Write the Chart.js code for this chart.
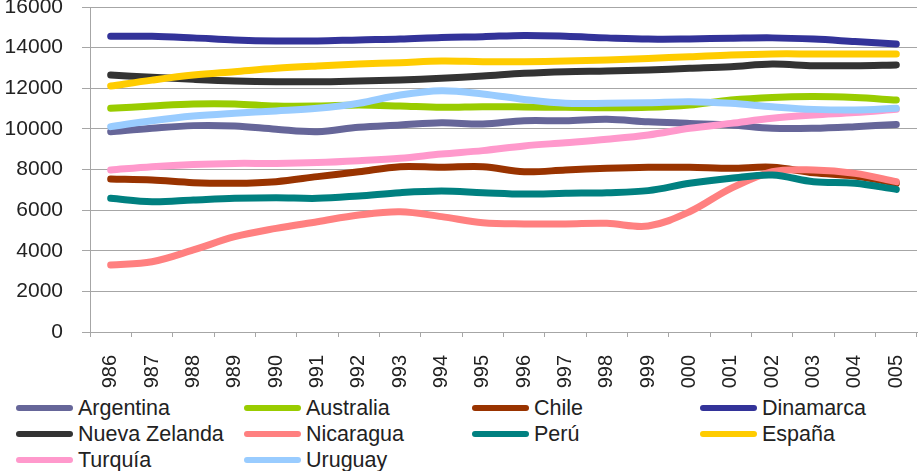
<!DOCTYPE html>
<html>
<head>
<meta charset="utf-8">
<script src="https://cdn.jsdelivr.net/npm/chart.js@4"></script>
<style>
  body { margin: 0; background: #fff; width: 919px; height: 471px; overflow: hidden; font-family: "Liberation Sans", Arial, sans-serif; }
  #wrap { position: relative; width: 919px; height: 388px; overflow: hidden; }
  #chartBox { position: absolute; left: 0; top: 0; width: 919px; height: 420px; }
  #legend { position: absolute; left: 16px; top: 395px; display: grid; grid-template-columns: 228px 228px 228px 228px; }
  .item { height: 26px; line-height: 26px; font-size: 21.5px; color: #222; white-space: nowrap; }
  .sw { display: inline-block; width: 57px; height: 6px; border-radius: 3px; vertical-align: middle; margin-right: 5px; position: relative; top: -1px; }
</style>
</head>
<body>
<div id="wrap"><div id="chartBox"><canvas id="grafico"></canvas></div></div>
<div id="legend"></div>
<script>
var anos = ["1986", "1987", "1988", "1989", "1990", "1991", "1992", "1993", "1994", "1995",
            "1996", "1997", "1998", "1999", "2000", "2001", "2002", "2003", "2004", "2005"];

var argentina = [9860, 10030, 10160, 10140, 9980, 9860, 10080, 10190, 10300, 10240, 10400, 10400, 10470, 10350, 10270, 10190, 10030, 10030, 10110, 10220];
var australia = [11010, 11125, 11225, 11225, 11125, 11125, 11175, 11125, 11060, 11090, 11080, 11060, 11040, 11060, 11175, 11420, 11550, 11590, 11540, 11420];
var chile = [7530, 7480, 7350, 7320, 7400, 7650, 7890, 8140, 8110, 8140, 7890, 7975, 8060, 8110, 8110, 8060, 8110, 7840, 7680, 7320];
var dinamarca = [14560, 14560, 14480, 14380, 14330, 14330, 14380, 14420, 14500, 14540, 14600, 14560, 14480, 14420, 14430, 14460, 14480, 14420, 14300, 14180];
var novaZelandia = [12650, 12540, 12440, 12360, 12320, 12320, 12360, 12410, 12490, 12600, 12735, 12815, 12850, 12900, 12980, 13060, 13190, 13110, 13110, 13150];
var nicaragua = [3300, 3460, 4040, 4690, 5100, 5430, 5760, 5920, 5680, 5380, 5320, 5320, 5350, 5220, 5920, 7070, 7890, 7975, 7810, 7400];
var peru = [6580, 6415, 6500, 6580, 6610, 6580, 6700, 6860, 6940, 6860, 6790, 6830, 6860, 6960, 7320, 7570, 7730, 7400, 7320, 7020];
var espanha = [12110, 12400, 12650, 12815, 12980, 13095, 13190, 13260, 13340, 13310, 13310, 13340, 13390, 13470, 13550, 13640, 13690, 13690, 13690, 13690];
var turquia = [7975, 8140, 8250, 8300, 8300, 8340, 8430, 8550, 8760, 8930, 9160, 9320, 9490, 9700, 10030, 10270, 10520, 10680, 10800, 10960];
var uruguai = [10110, 10400, 10630, 10770, 10880, 11010, 11260, 11670, 11880, 11720, 11450, 11260, 11260, 11290, 11340, 11260, 11090, 10960, 10930, 11010];

var paises = ["Argentina", "Australia", "Chile", "Dinamarca", "Nueva Zelanda", "Nicaragua", "Perú", "España", "Turquía", "Uruguay"];
var valores = [argentina, australia, chile, dinamarca, novaZelandia, nicaragua, peru, espanha, turquia, uruguai];
var cores = ["#666699", "#99cc00", "#993300", "#333399", "#333333", "#ff8080", "#008080", "#ffcc00", "#ff99cc", "#99ccff"];

var cinza = "#a6a6a6";

var datasets = [];
for (var i = 0; i < paises.length; i++) {
    datasets.push({
        label: paises[i],
        data: valores[i],
        borderColor: cores[i],
        backgroundColor: cores[i],
        borderWidth: 7,
        pointRadius: 0,
        tension: 0.35,
        borderCapStyle: "round",
        borderJoinStyle: "round",
        order: paises.length - i   // later series on top, like the original
    });
}

geraGrafico(document.getElementById("grafico"));
geraLegenda(document.getElementById("legend"));

function geraGrafico(ctx) {
    new Chart(ctx, {
        type: "line",
        data: { labels: anos, datasets: datasets },
        options: {
            maintainAspectRatio: false,
            responsive: true,
            animation: false,
            layout: { padding: { top: 7, right: 2, left: 0, bottom: 0 } },
            plugins: { legend: { display: false }, tooltip: { enabled: false } },
            scales: {
                x: {
                    offset: true,
                    grid: { offset: true, drawOnChartArea: false, drawTicks: true, tickLength: 5, color: cinza },
                    border: { color: cinza, width: 1 },
                    ticks: {
                        autoSkip: false, maxRotation: 90, minRotation: 90, padding: 18,
                        color: "#222", font: { family: "Liberation Sans", size: 20 }
                    },
                    afterFit: function (s) { s.height = 88; s.paddingLeft = 0; s.paddingRight = 0; }
                },
                y: {
                    min: 0, max: 16000,
                    ticks: {
                        stepSize: 2000, padding: 19, color: "#222",
                        font: { family: "Liberation Sans", size: 21 },
                        callback: function (v) { return String(v); }
                    },
                    grid: { color: cinza, tickLength: 8, lineWidth: 1 },
                    border: { color: cinza, width: 1 },
                    afterFit: function (s) { s.width = 90; s.paddingTop = 0; s.paddingBottom = 0; }
                }
            }
        }
    });
}

function geraLegenda(div) {
    for (var i = 0; i < paises.length; i++) {
        var item = document.createElement("div");
        item.className = "item";
        var sw = document.createElement("span");
        sw.className = "sw";
        sw.style.background = cores[i];
        item.appendChild(sw);
        item.appendChild(document.createTextNode(paises[i]));
        div.appendChild(item);
    }
}
</script>
</body>
</html>
